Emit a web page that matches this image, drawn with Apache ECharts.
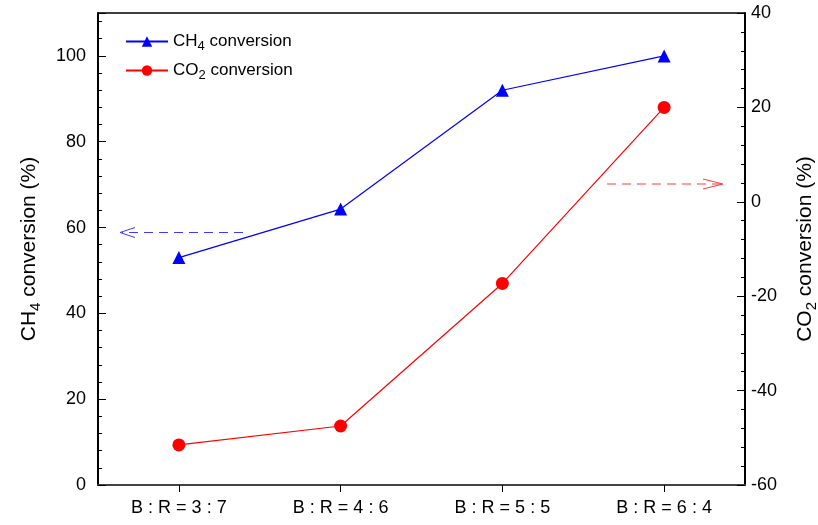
<!DOCTYPE html>
<html>
<head>
<meta charset="utf-8">
<script src="https://cdn.jsdelivr.net/npm/echarts@6/dist/echarts.min.js"></script>
<style>
  html, body { margin: 0; padding: 0; background: #fff; }
  #chart { width: 818px; height: 525px; }
</style>
</head>
<body>
<div id="chart"></div>
<script>
// Feed ratio categories and measured conversions
const categories = ['B : R = 3 : 7', 'B : R = 4 : 6', 'B : R = 5 : 5', 'B : R = 6 : 4'];
const ch4Conversion = [53, 64.3, 92, 100];
const co2Conversion = [-51.5, -47.5, -17.3, 20];
const leftTicks = { min: 0, max: 110, interval: 20 };
const rightTicks = { min: -60, max: 40, interval: 20 };

const FONT = 'Liberation Sans, Arial, sans-serif';
const sub = { fontFamily: FONT, fontSize: 13, color: '#000', verticalAlign: 'bottom', padding: [10, 0, 0, 0] };
const nameRich = {
  a: { fontFamily: FONT, fontSize: 21, color: '#000' },
  s: { fontFamily: FONT, fontSize: 15, color: '#000', verticalAlign: 'bottom', padding: [12, 0, 0, 0] }
};

const chart = echarts.init(document.getElementById('chart'), null, { renderer: 'canvas' });

chart.setOption({
  animation: false,
  backgroundColor: '#fff',
  grid: { left: 98, right: 73, top: 13, bottom: 40, outerBoundsMode: 'none' },
  legend: {
    left: 120, top: 28, orient: 'vertical',
    itemWidth: 42, itemHeight: 13, itemGap: 9,
    textStyle: {
      fontFamily: FONT, fontSize: 17, color: '#000',
      rich: { a: { fontFamily: FONT, fontSize: 17, color: '#000' }, s: sub }
    },
    formatter: function (name) {
      return name === 'CH4' ? '{a|CH}{s|4}{a| conversion}' : '{a|CO}{s|2}{a| conversion}';
    },
    data: ['CH4', 'CO2']
  },
  xAxis: [
    {
      type: 'category',
      data: categories,
      boundaryGap: true,
      axisLine: { show: true, lineStyle: { color: '#444', width: 2 } },
      axisTick: { show: true, alignWithLabel: true, length: 7, lineStyle: { color: '#000', width: 1 } },
      axisLabel: { fontFamily: FONT, fontSize: 18, color: '#000', margin: 14 },
      splitLine: { show: false }
    },
    {
      // plain frame line along the top edge
      type: 'category', position: 'top',
      data: categories,
      axisLine: { show: true, onZero: false, lineStyle: { color: '#000', width: 1.5 } },
      axisTick: { show: false }, axisLabel: { show: false }, splitLine: { show: false }
    }
  ],
  yAxis: [
    {
      type: 'value', position: 'left',
      min: leftTicks.min, max: leftTicks.max, interval: leftTicks.interval,
      axisLine: { show: true, lineStyle: { color: '#000', width: 2 } },
      axisTick: { show: true, inside: true, length: 8, lineStyle: { color: '#000', width: 1 } },
      minorTick: { show: true, splitNumber: 5, length: 4, lineStyle: { color: '#000', width: 1 } },
      axisLabel: {
        fontFamily: FONT, fontSize: 18, color: '#000', margin: 12,
        formatter: function (v) { return v > 100 ? '' : v; }
      },
      splitLine: { show: false },
      name: '{a|CH}{s|4}{a| conversion (%)}',
      nameLocation: 'middle', nameRotate: 90, nameGap: 55,
      nameTextStyle: { rich: nameRich }
    },
    {
      type: 'value', position: 'right',
      min: rightTicks.min, max: rightTicks.max, interval: rightTicks.interval,
      axisLine: { show: true, lineStyle: { color: '#000', width: 2 } },
      axisTick: { show: true, inside: true, length: 8, lineStyle: { color: '#000', width: 1 } },
      minorTick: { show: true, splitNumber: 5, length: 4, lineStyle: { color: '#000', width: 1 } },
      axisLabel: { fontFamily: FONT, fontSize: 18, color: '#000', margin: 6 },
      splitLine: { show: false },
      name: '{a|CO}{s|2}{a| conversion (%)}',
      nameLocation: 'middle', nameRotate: 90, nameGap: 47,
      nameTextStyle: { rich: nameRich }
    }
  ],
  series: [
    {
      name: 'CH4', type: 'line', yAxisIndex: 0,
      data: ch4Conversion,
      symbol: 'triangle', symbolSize: 13,
      lineStyle: { color: '#0000ff', width: 1.2 },
      itemStyle: { color: '#0000ff' }
    },
    {
      name: 'CO2', type: 'line', yAxisIndex: 1,
      data: co2Conversion,
      symbol: 'circle', symbolSize: 13,
      lineStyle: { color: '#ff0000', width: 1.2 },
      itemStyle: { color: '#ff0000' }
    }
  ]
});

// Dashed arrows pointing each curve to its own axis
function dashedArrow(x1, x2, y, color, head) {
  const dir = x2 > x1 ? 1 : -1;
  return [
    {
      type: 'line', silent: true,
      shape: { x1: x1, y1: y, x2: x2 - dir * 2, y2: y },
      style: { stroke: color, lineWidth: 1.2, lineDash: [9, 6] }
    },
    {
      type: 'polyline', silent: true,
      shape: { points: [[x2 - dir * head, y - 5], [x2, y], [x2 - dir * head, y + 5]] },
      style: { stroke: color, lineWidth: 1, fill: null }
    }
  ];
}

chart.setOption({
  graphic: [].concat(
    dashedArrow(243, 120, 232.5, '#3b3bff', 15),
    dashedArrow(607, 723, 184, '#ff3b3b', 20)
  )
});
</script>
</body>
</html>
